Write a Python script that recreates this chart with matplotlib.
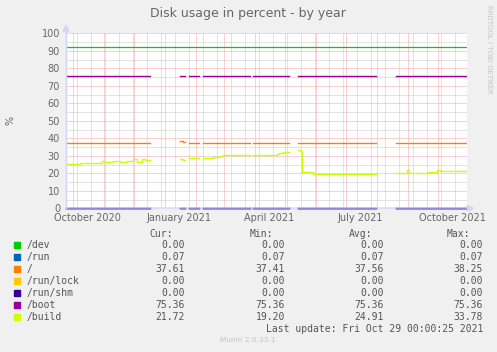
import numpy as np
import matplotlib
matplotlib.use("Agg")
import matplotlib.pyplot as plt
from matplotlib.lines import Line2D
from matplotlib.patches import Polygon, Rectangle

# ---------------- data (x = days since 1 Oct 2020) ----------------
title = "Disk usage in percent - by year"
series_names = ["/dev", "/run", "/", "/run/lock", "/run/shm", "/boot", "/build"]
series_colors = ["#00cc00", "#0066b3", "#ff8000", "#ffcc00", "#330099", "#990099", "#ccff00"]

# data segments (start, end) -- gaps between them have no data
seg_start = [-6.7, 107.3, 116.6, 130.6, 180.6, 225.6, 228.3, 323.3]
seg_end = [77.3, 112.3, 126.3, 177.3, 216.3, 227.3, 303.3, 394.0]

dev_value = 0.00
run_value = 0.07
lock_value = 0.00
shm_value = 0.00
boot_value = 75.36
warning_level = 92

# "/" step series (NaN marks segment end)
root_t = [-6.7, 77.3, 107.3, 110.0, 112.3, 116.6, 126.3, 130.6, 177.3, 180.6, 216.3,
          225.6, 227.3, 228.3, 303.3, 323.3, 394.0]
root_v = [37.6, np.nan, 38.25, 37.8, np.nan, 37.6, np.nan, 37.6, np.nan, 37.6, np.nan,
          37.6, np.nan, 37.6, np.nan, 37.6, np.nan]

# "/build" step series
build_t = [-6.7, 0.3, 7.0, 20.0, 29.0, 32.0, 40.0, 47.0, 54.0, 60.0, 64.0, 69.0, 72.0, 77.3,
           107.3, 110.0, 112.3,
           116.6, 126.3,
           130.6, 140.0, 147.0, 150.0, 177.3,
           180.6, 204.0, 206.0, 210.0, 216.3,
           225.6, 227.3,
           228.3, 229.8, 240.3, 303.3,
           323.3, 334.0, 336.5, 347.0, 355.0, 362.0, 364.5, 367.5, 394.0]
build_v = [25.1, 25.6, 25.8, 26.1, 27.0, 26.5, 26.8, 26.5, 26.9, 28.0, 26.7, 28.2, 27.8, np.nan,
           28.4, 27.7, np.nan,
           28.6, np.nan,
           29.0, 29.6, 29.9, 30.2, np.nan,
           30.2, 31.0, 31.6, 31.9, np.nan,
           33.5, np.nan,
           32.7, 20.8, 19.4, np.nan,
           19.9, 21.8, 20.1, 20.4, 20.8, 21.0, 21.9, 21.6, np.nan]

# legend statistics
cur_vals = ["0.00", "0.07", "37.61", "0.00", "0.00", "75.36", "21.72"]
min_vals = ["0.00", "0.07", "37.41", "0.00", "0.00", "75.36", "19.20"]
avg_vals = ["0.00", "0.07", "37.56", "0.00", "0.00", "75.36", "24.91"]
max_vals = ["0.00", "0.07", "38.25", "0.00", "0.00", "75.36", "33.78"]
last_update = "Last update: Fri Oct 29 00:00:25 2021"

# axis time grid (days since 1 Oct 2020)
month_starts = [0, 31, 61, 92, 123, 151, 182, 212, 243, 273, 304, 335, 365]
minor_days = [4 + 14 * k for k in range(28)]
x_label_days = [15, 106, 196, 288, 380]
x_labels = ["October 2020", "January 2021", "April 2021", "July 2021", "October 2021"]
y_major = list(range(0, 101, 10))
y_minor = list(range(5, 100, 10))

# ---------------- figure ----------------
W, H = 497, 352
FONT = "#666666"
AXISC = "#CFD6F8"
fig = plt.figure(figsize=(W / 100, H / 100), dpi=100, facecolor="#F0F0F0")


def fx(px):
    return px / W


def fy(py):
    return 1 - py / H


x0, x1 = 66, 467
y0, y1 = 208.3, 33.3
ax = fig.add_axes([fx(x0), fy(y0), (x1 - x0) / W, (y0 - y1) / H])
ax.set_facecolor("white")
ax.set_xlim(-6.7, 394.3)
ax.set_ylim(0, 100)
for s in ax.spines.values():
    s.set_visible(False)
ax.set_xticks([])
ax.set_yticks(y_major)
ax.set_yticklabels([str(v) for v in y_major], fontsize=7, color=FONT)
ax.tick_params(axis="y", length=0, pad=4.3)

px = 0.72
grid_gray = "#c8c8c8"
grid_red = "#f4a4a4"
dots = (0, (1, 1))
gkw = dict(lw=px, ls=dots)
for d in minor_days:
    if ax.get_xlim()[0] <= d <= ax.get_xlim()[1]:
        ax.axvline(d, color=grid_gray, zorder=1, **gkw)
for v in y_minor:
    ax.axhline(v, color=grid_gray, zorder=1, **gkw)
for d in month_starts:
    ax.axvline(d, color=grid_red, zorder=2, **gkw)
for v in y_major[1:]:
    ax.axhline(v, color=grid_red, zorder=2, **gkw)


def const_series(value):
    t, v = [], []
    for a, b in zip(seg_start, seg_end):
        t += [a, b]
        v += [value, np.nan]
    return t, v


lw = 1.0
for name, col, val in [("/dev", series_colors[0], dev_value),
                        ("/run", series_colors[1], run_value),
                        ("/run/lock", series_colors[3], lock_value),
                        ("/run/shm", series_colors[4], shm_value)]:
    t, v = const_series(val)
    ax.step(t, v, where="post", color=col, lw=lw, zorder=3, clip_on=False)

ax.step(root_t, root_v, where="post", color=series_colors[2], lw=lw, zorder=4)
t, v = const_series(boot_value)
ax.step(t, v, where="post", color=series_colors[5], lw=lw, zorder=4)
ax.step(build_t, build_v, where="post", color=series_colors[6], lw=lw, zorder=4)
ax.axhline(warning_level, color=series_colors[0], lw=0.9, zorder=4)

for d, lab in zip(x_label_days, x_labels):
    ax.annotate(lab, xy=(d, 0), xycoords=("data", "axes fraction"),
                xytext=(0, -9.1), textcoords="offset points",
                ha="center", va="baseline", fontsize=7, color=FONT)

# axis lines and arrows
fig.add_artist(Line2D([fx(x0), fx(x0)], [fy(y0), fy(29)], color=AXISC, lw=1.0))
fig.add_artist(Line2D([fx(x0), fx(469)], [fy(y0), fy(y0)], color=AXISC, lw=1.3, alpha=0.7, zorder=5))
fig.add_artist(Polygon([(fx(63), fy(31.5)), (fx(69), fy(31.5)), (fx(66), fy(25.5))],
                       closed=True, color=AXISC))
fig.add_artist(Polygon([(fx(467.5), fy(205.3)), (fx(467.5), fy(211.3)), (fx(473.5), fy(208.3))],
                       closed=True, color=AXISC))

# texts
fig.text(fx(248), fy(13), title, ha="center", va="center", fontsize=9, color=FONT)
fig.text(fx(11), fy(120), "%", ha="center", va="center", rotation=90, fontsize=7, color=FONT)
fig.text(fx(489), fy(5), "RRDTOOL / TOBI OETIKER", ha="center", va="top", rotation=270,
         fontsize=5, color="#c4c4c4")
fig.text(fx(248), fy(340), "Munin 2.0.33-1", ha="center", va="center", fontsize=5.3, color="#c4c4c4")

mono = "DejaVu Sans Mono"
lfs = 7
LFONT = "#555555"
row_y0, row_dy = 245, 12
fig.text(fx(149), fy(234), "Cur:", ha="left", va="center", family=mono, fontsize=lfs, color=LFONT)
fig.text(fx(249.5), fy(234), "Min:", ha="left", va="center", family=mono, fontsize=lfs, color=LFONT)
fig.text(fx(349), fy(234), "Avg:", ha="left", va="center", family=mono, fontsize=lfs, color=LFONT)
fig.text(fx(447), fy(234), "Max:", ha="left", va="center", family=mono, fontsize=lfs, color=LFONT)
for i, name in enumerate(series_names):
    y = row_y0 + i * row_dy
    fig.add_artist(Rectangle((fx(14), fy(y + 3)), 6 / W, 6 / H, color=series_colors[i]))
    fig.text(fx(26.7), fy(y), name, ha="left", va="center", family=mono, fontsize=lfs, color=LFONT)
    for xr, vals in [(185, cur_vals), (285, min_vals), (384, avg_vals), (483, max_vals)]:
        fig.text(fx(xr), fy(y), vals[i], ha="right", va="center", family=mono, fontsize=lfs, color=LFONT)
fig.text(fx(483), fy(row_y0 + 7 * row_dy), last_update, ha="right", va="center",
         family=mono, fontsize=lfs, color=LFONT)

fig.savefig("out.png", dpi=100, facecolor=fig.get_facecolor())
